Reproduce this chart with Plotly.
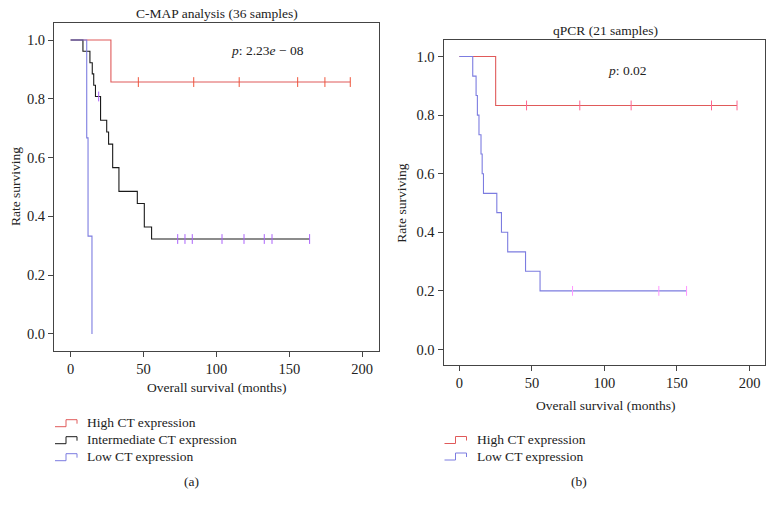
import plotly.graph_objects as go

W, H = 777, 508

# ---------------- Panel (a): C-MAP analysis ----------------
a_high_times = [0, 27.6, 191.8]
a_high_surv = [1.0, 0.857, 0.857]
a_high_cens = [46.4, 84.4, 115.6, 155.7, 174.4, 191.8]

a_mid_times = [0, 8.4, 13.2, 14.8, 15.8, 17.0, 20.5, 24.7, 26.0, 28.8, 33.1, 45.7, 50.5, 55.5, 163.9]
a_mid_surv = [1.0, 0.962, 0.923, 0.885, 0.846, 0.808, 0.727, 0.687, 0.646, 0.566, 0.485, 0.444, 0.364, 0.323, 0.323]
a_mid_cens = [19.2, 73.4, 78.4, 83.4, 103.8, 118.9, 132.8, 138.1, 163.9]

a_low_times = [0, 11.0, 11.9, 14.6]
a_low_surv = [1.0, 0.667, 0.333, 0.0]
a_low_cens = []

# ---------------- Panel (b): qPCR ----------------
b_high_times = [0, 25.0, 191.4]
b_high_surv = [1.0, 0.833, 0.833]
b_high_cens = [46.3, 83.0, 118.4, 173.8, 191.4]

b_low_times = [0, 9.2, 11.5, 12.4, 13.5, 14.9, 15.7, 16.6, 25.8, 29.0, 33.3, 45.6, 55.6, 156.6]
b_low_surv = [1.0, 0.933, 0.867, 0.8, 0.733, 0.667, 0.6, 0.533, 0.467, 0.4, 0.333, 0.267, 0.2, 0.2]
b_low_cens = [78.0, 137.5, 156.6]

x_ticks = [0, 50, 100, 150, 200]
y_ticks = [0.0, 0.2, 0.4, 0.6, 0.8, 1.0]
y_ticktext = ["0.0", "0.2", "0.4", "0.6", "0.8", "1.0"]

RED = "#e05a5a"
BLACK = "#1a1a1a"
BLUE = "#7c7ce0"
FONT = "Liberation Serif"


def surv_at(t, times, surv):
    v = surv[0]
    for ti, si in zip(times, surv):
        if ti <= t:
            v = si
    return v


fig = go.Figure()


def add_km(times, surv, cens, color, xa, ya):
    fig.add_trace(go.Scatter(x=times, y=surv, mode="lines", line=dict(color=color, width=1.1, shape="hv"),
                             xaxis=xa, yaxis=ya, showlegend=False, hoverinfo="skip"))
    if cens:
        fig.add_trace(go.Scatter(x=cens, y=[surv_at(t, times, surv) for t in cens], mode="markers",
                                 marker=dict(symbol="line-ns-open", size=7, line=dict(color=color, width=1)),
                                 xaxis=xa, yaxis=ya, showlegend=False, hoverinfo="skip"))


add_km(a_high_times, a_high_surv, a_high_cens, RED, "x", "y")
add_km(a_mid_times, a_mid_surv, a_mid_cens, BLACK, "x", "y")
add_km(a_low_times, a_low_surv, a_low_cens, BLUE, "x", "y")
add_km(b_high_times, b_high_surv, b_high_cens, RED, "x2", "y2")
add_km(b_low_times, b_low_surv, b_low_cens, BLUE, "x2", "y2")

axis_common = dict(showgrid=False, zeroline=False, showline=True, mirror=True, linecolor="#444", linewidth=1,
                   ticks="outside", tickcolor="#444", ticklen=5, tickwidth=1,
                   tickfont=dict(family=FONT, size=14.5, color="#222"))

fig.update_layout(
    width=W, height=H, margin=dict(l=0, r=0, t=0, b=0),
    paper_bgcolor="white", plot_bgcolor="white", showlegend=False,
    xaxis=dict(domain=[54 / W, 379 / W], range=[-11.45, 211.5], tickvals=x_ticks, **axis_common),
    yaxis=dict(domain=[1 - 350.7 / H, 1 - 23 / H], range=[-0.057, 1.058], tickvals=y_ticks, ticktext=y_ticktext,
               **axis_common),
    xaxis2=dict(domain=[443.5 / W, 765.4 / W], range=[-10.96, 210.96], tickvals=x_ticks, anchor="y2", **axis_common),
    yaxis2=dict(domain=[1 - 365 / H, 1 - 40.4 / H], range=[-0.053, 1.055], tickvals=y_ticks, ticktext=y_ticktext,
                anchor="x2", **axis_common),
)


def px(x, y):
    return x / W, 1 - y / H


def text(x, y, s, size=13.5, anchor="center", angle=0):
    xp, yp = px(x, y)
    fig.add_annotation(x=xp, y=yp, xref="paper", yref="paper", text=s, showarrow=False,
                       xanchor=anchor, yanchor="middle", textangle=angle,
                       font=dict(family=FONT, size=size, color="#222"))


# titles
text(216.7, 14, "C-MAP analysis (36 samples)")
text(605, 30.4, "qPCR (21 samples)")
# axis titles
text(217, 387, "Overall survival (months)")
text(605, 405, "Overall survival (months)")
text(15, 187, "Rate surviving", angle=-90)
text(401.7, 203, "Rate surviving", angle=-90)
# p-values
text(229, 50, "<i>p</i>: 2.23<i>e</i> − 08", anchor="left")
text(606, 71, "<i>p</i>: 0.02", anchor="left")
# panel labels
text(191.7, 481.7, "(a)")
text(578.5, 481, "(b)")


def legend_item(x0, yc, color, label):
    a = px(x0, yc + 4)
    b = px(x0 + 11, yc + 4)
    c = px(x0 + 11, yc - 3)
    d = px(x0 + 22, yc - 3)
    e = px(x0 + 22, yc + 1)
    path = "M {} {} L {} {} L {} {} L {} {} L {} {}".format(a[0], a[1], b[0], b[1], c[0], c[1], d[0], d[1], e[0], e[1])
    fig.add_shape(type="path", path=path, xref="paper", yref="paper", line=dict(color=color, width=1))
    text(x0 + 30, yc, label, anchor="left")


legend_a = ["High CT expression", "Intermediate CT expression", "Low CT expression"]
for i, (lab, col) in enumerate(zip(legend_a, [RED, BLACK, BLUE])):
    legend_item(55, 422.7 + i * 17, col, lab)

legend_b = ["High CT expression", "Low CT expression"]
for i, (lab, col) in enumerate(zip(legend_b, [RED, BLUE])):
    legend_item(444.5, 439.5 + i * 16.5, col, lab)

fig.write_html("out.html", config={"displayModeBar": False},
               post_script="document.body.style.margin='0';document.body.style.overflow='hidden';")
